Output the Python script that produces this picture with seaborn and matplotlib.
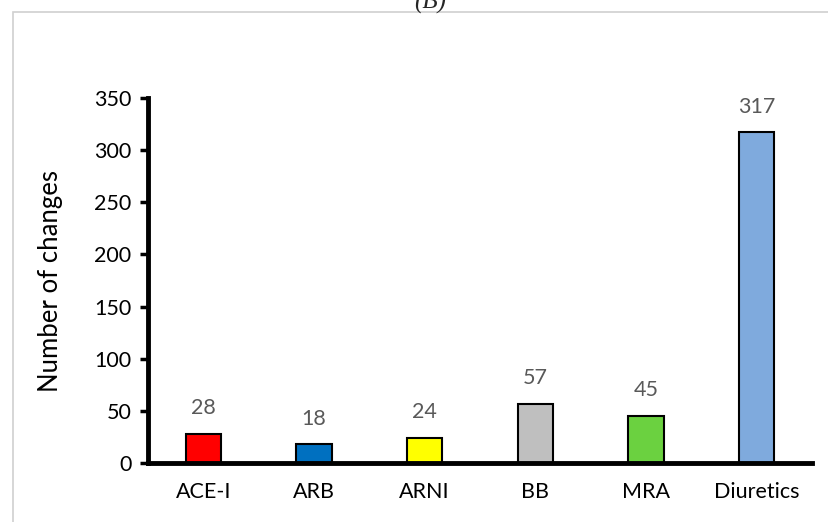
import matplotlib
matplotlib.use("Agg")
import matplotlib.pyplot as plt
import seaborn as sns
import pandas as pd
from matplotlib.patches import Rectangle

categories = ["ACE-I", "ARB", "ARNI", "BB", "MRA", "Diuretics"]
values = [28, 18, 24, 57, 45, 317]
colors = ["#FF0000", "#0070C0", "#FFFF00", "#BFBFBF", "#6BD140", "#7FAADD"]
yticks = [0, 50, 100, 150, 200, 250, 300, 350]

sns.set_theme(style="white")
plt.rcParams["font.family"] = ["Lato", "DejaVu Sans"]

df = pd.DataFrame({"cat": categories, "val": values})

fig = plt.figure(figsize=(8.29, 5.22), dpi=100)
ax = fig.add_axes([148/829, 1 - 463/522, (812 - 148)/829, (463 - 98)/522])

sns.barplot(data=df, x="cat", y="val", hue="cat", palette=colors, legend=False,
            saturation=1, width=0.32, edgecolor="black", linewidth=1.5, ax=ax)

ax.set_xlim(-0.5, 5.5)
ax.set_ylim(0, 350)
ax.set_yticks(yticks)
ax.set_yticklabels([str(t) for t in yticks], fontsize=15.5, color="black")
ax.tick_params(axis="x", length=0, labelsize=15.5, pad=14, labelcolor="black")
ax.tick_params(axis="y", direction="out", length=6, width=2.5, color="black",
               pad=6, left=True)
ax.set_xlabel("")
ax.set_ylabel("Number of changes", fontsize=18.5, labelpad=22, color="black")
for s in ["top", "right"]:
    ax.spines[s].set_visible(False)
for s in ["left", "bottom"]:
    ax.spines[s].set_linewidth(3.5)
    ax.spines[s].set_color("black")

for i, v in enumerate(values):
    ax.text(i, v + 15, str(v), ha="center", va="bottom", fontsize=15.5, color="#595959")

# outer gray frame
fig.patches.append(Rectangle((13/829, -0.1), 1.2, 1 - 12/522 + 0.1,
                             transform=fig.transFigure, fill=False,
                             edgecolor="#D0D0D0", linewidth=1.2))
fig.text(430/829, 1 - 2/522, "(B)", ha="center", va="center",
         fontsize=18, family=["Liberation Serif", "DejaVu Serif"], style="italic")

fig.savefig("out.png", dpi=100)
